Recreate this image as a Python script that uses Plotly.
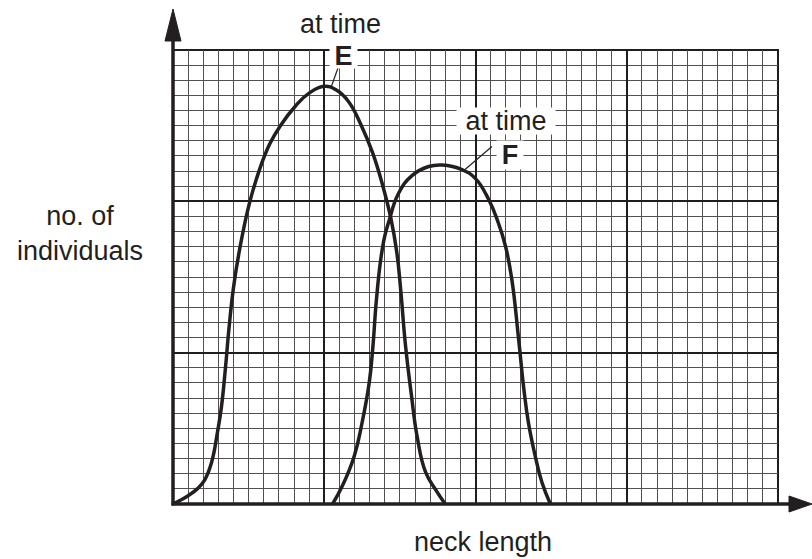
import plotly.graph_objects as go

# ---- data (grid units: x 0..40 neck length, y 0..30 no. of individuals)
e_x = [0, 1.0, 1.6, 2.1, 2.55, 2.95, 3.2, 3.45, 3.72, 4.0, 4.4, 5.06, 5.72, 6.4, 7.1, 8.1, 9.0, 10.0,
       10.8, 11.6, 12.5, 13.2, 13.85, 14.4, 14.8, 15.05, 15.38, 15.75, 16.15, 16.7, 17.36, 18.0]
e_y = [0, 0.55, 1.0, 1.6, 2.75, 4.8, 6.4, 8.8, 11.8, 14.3, 16.8, 19.9, 22.1, 23.8, 25.0, 26.3, 27.15, 27.6,
       27.35, 26.6, 24.9, 23.2, 21.1, 18.9, 16.6, 14.2, 10.4, 7.3, 4.4, 2.1, 0.95, 0.0]
f_x = [10.55, 11.2, 11.98, 12.5, 12.97, 13.2, 13.45, 13.74, 14.0, 14.28, 14.9, 15.8, 16.9, 17.8, 19.1,
       20.0, 20.88, 21.5, 21.98, 22.4, 22.85, 23.2, 23.5, 23.95, 24.4, 24.95]
f_y = [0, 1.2, 3.16, 5.37, 8.0, 10.2, 13.5, 16.2, 17.7, 18.7, 20.5, 21.7, 22.3, 22.4, 22.1,
       21.5, 20.1, 18.6, 17.05, 14.85, 10.9, 7.57, 5.37, 3.16, 1.4, 0]

x_label = "neck length"
y_label = "no. of<br>individuals"
label_e = ("at time", "E")
label_f = ("at time", "F")

W, H = 812, 559
ML, MR, MT, MB = 173, 34, 50, 55
PW, PH = W - ML - MR, H - MT - MB
INK = "#231f20"
FONT = "Liberation Sans, Arial, sans-serif"


def px(x):
    return (x - ML) / PW


def py(y):
    return (MT + PH - y) / PH


fig = go.Figure()
for xs, ys in ((e_x, e_y), (f_x, f_y)):
    fig.add_trace(go.Scatter(x=xs, y=ys, mode="lines",
                             line=dict(color=INK, width=3.5, shape="spline", smoothing=1.3),
                             hoverinfo="skip", showlegend=False, cliponaxis=False))

axis_common = dict(showticklabels=False, ticks="", zeroline=False, showline=False,
                   showgrid=True, gridcolor="#1e1e1e", gridwidth=2,
                   minor=dict(dtick=1, showgrid=True, gridcolor="#505050", gridwidth=1.2),
                   fixedrange=True)
fig.update_xaxes(range=[0, 40], dtick=10, tick0=0, **axis_common)
fig.update_yaxes(range=[0, 30], dtick=10, tick0=0, **axis_common)

shapes = []
# frame (top/right edges)
shapes.append(dict(type="rect", xref="paper", yref="paper", x0=0, x1=1, y0=0, y1=1,
                   line=dict(color="#1e1e1e", width=2), layer="below"))
# axes with arrows
shapes.append(dict(type="line", xref="paper", yref="paper", x0=px(173), x1=px(173), y0=py(505.5), y1=py(30),
                   line=dict(color=INK, width=3.5)))
shapes.append(dict(type="line", xref="paper", yref="paper", x0=px(171.5), x1=px(795), y0=py(504), y1=py(504),
                   line=dict(color=INK, width=3.5)))


def tri(pts):
    return "M " + " L ".join(f"{px(a)},{py(b)}" for a, b in pts) + " Z"


shapes.append(dict(type="path", xref="paper", yref="paper", path=tri([(173, 9), (165, 41), (181, 41)]),
                   fillcolor=INK, line=dict(color=INK, width=1)))
shapes.append(dict(type="path", xref="paper", yref="paper", path=tri([(812, 504), (789, 496), (789, 512)]),
                   fillcolor=INK, line=dict(color=INK, width=1)))
# leader lines
shapes.append(dict(type="line", xref="paper", yref="paper", x0=px(338.5), y0=py(66.5), x1=px(331), y1=py(87.5),
                   line=dict(color=INK, width=1.2)))
shapes.append(dict(type="line", xref="paper", yref="paper", x0=px(492), y0=py(146.5), x1=px(465), y1=py(169.5),
                   line=dict(color=INK, width=1.2)))
fig.update_layout(shapes=shapes)

ann = []


def label(text, x, y, size=27, bold=False, box=None):
    d = dict(text=f"<b>{text}</b>" if bold else text, xref="paper", yref="paper",
             x=px(x), y=py(y), xanchor="center", yanchor="middle", showarrow=False,
             font=dict(family=FONT, size=size, color=INK))
    if box:
        d.update(bgcolor="white", width=box[0], height=box[1], borderpad=0)
    ann.append(d)


label(label_e[0], 340, 24)
label(label_e[1], 343.5, 56, bold=True, box=(27, 24))
label(label_f[0], 506, 121, box=(98, 26))
label(label_f[1], 510, 155, bold=True, box=(26, 28))
label(y_label, 80, 233)
label(x_label, 483, 542)
fig.update_layout(annotations=ann)

fig.update_layout(width=W, height=H, margin=dict(l=ML, r=MR, t=MT, b=MB, autoexpand=False),
                  paper_bgcolor="white", plot_bgcolor="white", showlegend=False,
                  font=dict(family=FONT, color=INK))
fig.write_html("out.html", config={"displayModeBar": False},
               post_script="document.body.style.margin='0';document.body.style.overflow='hidden';")
